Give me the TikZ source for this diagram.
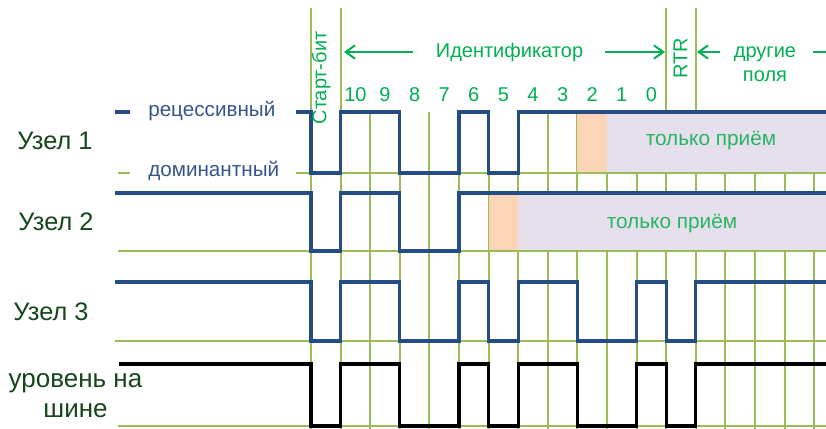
\documentclass[tikz,border=0pt]{standalone}
\usepackage{fontspec}
\setmainfont{Liberation Sans}
\usetikzlibrary{arrows.meta}
\definecolor{sigblue}{RGB}{37,76,133}
\definecolor{lblblue}{RGB}{52,86,140}
\definecolor{gridgreen}{RGB}{155,187,89}
\definecolor{txtgreen}{RGB}{0,176,80}
\definecolor{rcvgreen}{RGB}{40,180,100}
\definecolor{namegreen}{RGB}{22,70,28}
\definecolor{errfill}{RGB}{251,213,181}
\definecolor{rcvfill}{RGB}{229,224,236}
\begin{document}
\begin{tikzpicture}[x=0.75pt,y=-0.75pt,
  gridline/.style={draw=gridgreen,line width=1.5pt},
  sig/.style={draw=sigblue,line width=2.3pt,line join=miter},
  busline/.style={draw=black,line width=2.3pt,line join=miter},
  arr/.style={draw=txtgreen,line width=1.5pt,-{Straight Barb[length=7pt,width=10pt]}},
  nodename/.style={text=namegreen,font=\fontsize{19}{22.5}\selectfont,inner sep=0pt},
  levelname/.style={text=lblblue,font=\fontsize{15.5}{18}\selectfont,inner sep=0pt},
  fieldname/.style={text=txtgreen,font=\fontsize{15}{18}\selectfont,inner sep=0pt},
  rcvtext/.style={text=rcvgreen,font=\fontsize{15.6}{18}\selectfont,inner sep=0pt}]
\useasboundingbox (0,0) rectangle (826,429);

% bit boundaries: long lines around the start bit and RTR, short ones elsewhere
\foreach \x in {311.0,340.6,666.2,695.8}
  \draw[gridline] (\x,8) -- (\x,429);
\foreach \x in {370.2,399.8,429.4,459.0,488.6,518.2,547.8,577.4,607.0,636.6,725.4,755.0,784.6,814.2}
  \draw[gridline] (\x,112) -- (\x,429);

% lost arbitration: error bit and receive-only zone
\fill[errfill] (577.4,112) rectangle (607.0,173);
\fill[rcvfill] (607.0,112) rectangle (826,173);
\fill[errfill] (488.6,193) rectangle (518.2,251);
\fill[rcvfill] (518.2,193) rectangle (826,251);

% dominant reference levels
\draw[gridline] (118,173) -- (130,173);
\draw[gridline] (296,173) -- (826,173);
\draw[gridline] (118,251) -- (826,251);
\draw[gridline] (115,341) -- (826,341);
\draw[gridline] (118,426) -- (826,426);

% node 1
\draw[sig] (115,112) -- (130,112);
\draw[sig] (296,112) -- (311,112) -- (311,173) -- (340.6,173) -- (340.6,112)
  -- (399.8,112) -- (399.8,173) -- (459,173) -- (459,112) -- (488.6,112)
  -- (488.6,173) -- (518.2,173) -- (518.2,112) -- (826,112);
% node 2
\draw[sig] (115,193) -- (311,193) -- (311,251) -- (340.6,251) -- (340.6,193)
  -- (399.8,193) -- (399.8,251) -- (459,251) -- (459,193) -- (826,193);
% node 3
\draw[sig] (115,282) -- (311,282) -- (311,341) -- (340.6,341) -- (340.6,282)
  -- (399.8,282) -- (399.8,341) -- (459,341) -- (459,282) -- (488.6,282)
  -- (488.6,341) -- (518.2,341) -- (518.2,282) -- (577.4,282) -- (577.4,341)
  -- (636.6,341) -- (636.6,282) -- (666.2,282) -- (666.2,341) -- (695.8,341)
  -- (695.8,282) -- (826,282);
% resulting bus level
\draw[busline] (119,364) -- (311,364) -- (311,426) -- (340.6,426) -- (340.6,364)
  -- (399.8,364) -- (399.8,426) -- (459,426) -- (459,364) -- (488.6,364)
  -- (488.6,426) -- (518.2,426) -- (518.2,364) -- (577.4,364) -- (577.4,426)
  -- (636.6,426) -- (636.6,364) -- (666.2,364) -- (666.2,426) -- (695.8,426)
  -- (695.8,364) -- (826,364);

% row names
\node[nodename,anchor=base west] (n1) at (17,149.5) {Узел 1};
\node[nodename,anchor=base west] (n2) at (18,230) {Узел 2};
\node[nodename,anchor=base west] (n3) at (13,320.5) {Узел 3};
\node[nodename,anchor=base,align=center,font=\fontsize{19.5}{22.5}\selectfont] (bus) at (75.5,417) {уровень на\\шине};
\node[levelname,anchor=base west] (rec) at (148,116) {рецессивный};
\node[levelname,anchor=base west] (dom) at (148,176) {доминантный};

% frame fields
\node[fieldname,rotate=90] (start) at (321,78) {Старт-бит};
\node[fieldname,rotate=90] (rtr) at (680.5,58) {RTR};
\node[fieldname,anchor=base] (ident) at (509.5,57) {Идентификатор};
\node[fieldname,anchor=base,align=center] (other) at (765,81.5) {другие\\поля};
\foreach \n [count=\i] in {10,9,8,7,6,5,4,3,2,1,0}
  \node[fieldname,anchor=base] (bit\n) at ({325.8+29.6*\i},101.5) {\n};

\coordinate (idLfrom) at (413,52);
\coordinate (idLto) at (344,52);
\coordinate (idRfrom) at (605,52);
\coordinate (idRto) at (665,52);
\coordinate (otLfrom) at (720,52);
\coordinate (otLto) at (697,52);
\coordinate (otRfrom) at (813,52);
\coordinate (otRto) at (826,52);
\draw[arr] (idLfrom) -- (idLto);
\draw[arr] (idRfrom) -- (idRto);
\draw[arr] (otLfrom) -- (otLto);
\draw[draw=txtgreen,line width=1.5pt] (otRfrom) -- (otRto);

% receive-only labels
\node[rcvtext,anchor=base] (rcv1) at (711,145.5) {только приём};
\node[rcvtext,anchor=base] (rcv2) at (672,228) {только приём};
\end{tikzpicture}
\end{document}
